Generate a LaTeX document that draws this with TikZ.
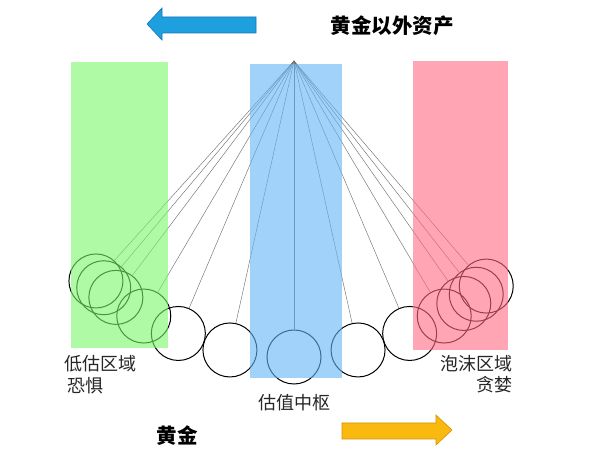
\documentclass[tikz,border=0pt]{standalone}
\usepackage{fontspec}
\setmainfont{Liberation Sans}
\newfontfamily\cjk{Noto Sans CJK SC}
\usetikzlibrary{calc}
\definecolor{zgreen}{RGB}{122,247,105}
\definecolor{zblue}{RGB}{97,180,247}
\definecolor{zpink}{RGB}{255,105,130}
\definecolor{arrblue}{RGB}{30,160,222}
\definecolor{arrblueD}{RGB}{20,120,180}
\definecolor{arryel}{RGB}{250,185,15}
\definecolor{arryelD}{RGB}{215,145,0}
\begin{document}
\begin{tikzpicture}[x=1pt,y=-1pt,
  bob/.style={circle,draw=black,line width=1pt,minimum size=54pt,inner sep=0pt},
  str/.style={draw=black!55,line width=0.45pt},
  zone/.style={fill opacity=0.6},
  lbl/.style={font=\cjk\fontsize{18}{21}\selectfont,inner sep=0pt,text=black!85},
  ttl/.style={font=\cjk\bfseries\fontsize{20.5}{24}\selectfont,inner sep=0pt},
  ]
\useasboundingbox (0,0) rectangle (611,454);
\fill[white] (0,0) rectangle (611,454);
\coordinate (P) at (294,61);
\foreach \a [count=\i] in {-42,-40,-37,-30.5,-23,-12.5,0,12.5,23,30.5,35,38,40.5}{
  \node[bob] (b\i) at ({294+296*sin(\a)},{61+296*cos(\a)}) {};
  \draw[str] (P) -- (b\i);
}
\fill[zgreen,zone] (71,62) rectangle (168,348);
\fill[zblue,zone] (250,64) rectangle (342,378);
\fill[zpink,zone] (413,61) rectangle (508,350);
% arrows
\draw[fill=arrblue,draw=arrblueD,line width=0.6pt]
  (147,24) -- (162,8) -- (162,17) -- (256,17) -- (256,33) -- (162,33) -- (162,40) -- cycle;
\draw[fill=arryel,draw=arryelD,line width=0.6pt]
  (452,430) -- (436,415) -- (436,423) -- (342,423) -- (342,439) -- (436,439) -- (436,445) -- cycle;
% labels
\node[ttl] (t1) at (392,26) {黄金以外资产};
\node[ttl] (t2) at (177,436) {黄金};
\node[lbl,anchor=west] (l1) at (64,364) {低估区域};
\node[lbl,anchor=west] (l2) at (67,386) {恐惧};
\node[lbl,anchor=east] (r1) at (513,364) {泡沫区域};
\node[lbl,anchor=east] (r2) at (513,385) {贪婪};
\node[lbl] (m1) at (294,403) {估值中枢};
\end{tikzpicture}
\end{document}
